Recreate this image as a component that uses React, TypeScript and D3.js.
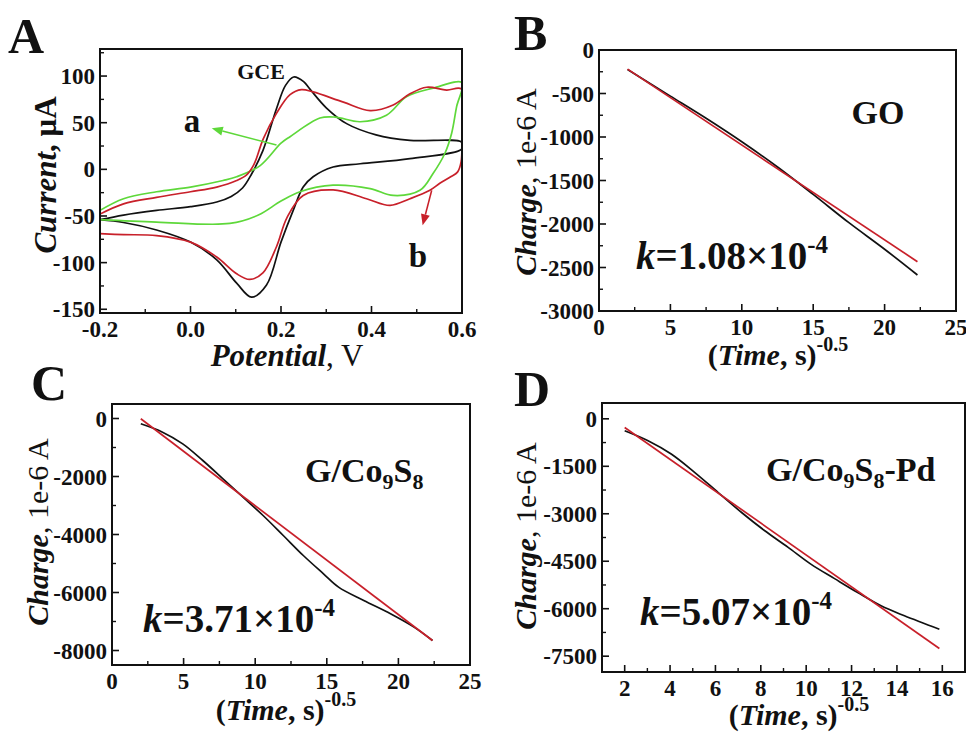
import React from "react";
import * as d3 from "d3";

type Pt = [number, number];

// ---------- Panel A : cyclic voltammograms ----------
const potentialTicks = [-0.2, 0.0, 0.2, 0.4, 0.6];
const potentialMinor = [-0.1, 0.1, 0.3, 0.5];
const currentTicks = [100, 50, 0, -50, -100, -150];
const currentMinor = [125, 75, 25, -25, -75, -125];

const cvGCE: Pt[] = [
  [-0.2, -54], [-0.148, -49], [-0.075, -44], [0.0, -40], [0.058, -35], [0.09, -29], [0.115, -20],
  [0.135, -5], [0.16, 20], [0.19, 65], [0.21, 90], [0.228, 99], [0.25, 94], [0.264, 86], [0.3, 66],
  [0.345, 49], [0.41, 37], [0.485, 31], [0.6, 29],
  [0.6, 22], [0.485, 11.5], [0.375, 6], [0.315, 2.5], [0.271, -8], [0.249, -19], [0.227, -44],
  [0.2, -78], [0.168, -124], [0.135, -137], [0.102, -122], [0.058, -97], [0.0, -78], [-0.075, -65],
  [-0.148, -57], [-0.2, -54],
];
const cvCurveA: Pt[] = [
  [-0.2, -44], [-0.148, -31.5], [-0.075, -24], [0.0, -19], [0.072, -12], [0.102, -8], [0.154, 4],
  [0.2, 28], [0.22, 35], [0.286, 55], [0.32, 56], [0.375, 51], [0.433, 58], [0.478, 78], [0.536, 87],
  [0.6, 93],
  [0.588, 67], [0.577, 38.5], [0.562, 17], [0.536, -4.5], [0.507, -22.5], [0.448, -28], [0.397, -20.6],
  [0.315, -17], [0.242, -24], [0.2, -34], [0.15, -49], [0.087, -58], [-0.075, -56.5], [-0.2, -54],
];
const cvCurveB: Pt[] = [
  [-0.2, -48], [-0.148, -37], [-0.075, -30], [0.0, -24], [0.058, -19], [0.102, -12], [0.124, -6],
  [0.14, 5], [0.161, 33], [0.19, 60], [0.22, 80], [0.245, 85.5], [0.271, 83], [0.338, 72], [0.397, 63],
  [0.448, 69], [0.485, 81], [0.522, 88], [0.566, 85], [0.599, 86],
  [0.6, 40], [0.598, 8], [0.59, -3], [0.575, -8], [0.551, -15], [0.529, -22.5], [0.485, -31.5],
  [0.441, -38.6], [0.389, -31.5], [0.315, -22], [0.249, -28], [0.213, -52], [0.19, -83], [0.16, -111],
  [0.131, -118], [0.102, -112], [0.058, -94], [0.0, -78], [-0.075, -71], [-0.148, -70], [-0.2, -69],
];
const arrowA: Pt[] = [[0.19, 26], [0.047, 44]];
const arrowB: Pt[] = [[0.533, -22.5], [0.513, -60]];

// ---------- Panel B : GO ----------
const timeTicks25 = [0, 5, 10, 15, 20, 25];
const timeMinor25 = [2.5, 7.5, 12.5, 17.5, 22.5];
const chargeTicksB = [0, -500, -1000, -1500, -2000, -2500, -3000];
const chargeMinorB = [-250, -750, -1250, -1750, -2250, -2750];
const goTime = [2, 5, 7.5, 10, 12.5, 15, 17.5, 20, 22.3];
const goCharge = [-225, -530, -785, -1055, -1345, -1660, -1985, -2290, -2586];
const goFitTime = [2, 22.3];
const goFitCharge = [-220, -2433];

// ---------- Panel C : G/Co9S8 ----------
const chargeTicksC = [0, -2000, -4000, -6000, -8000];
const chargeMinorC = [-1000, -3000, -5000, -7000];
const coTime = [2.01, 3.53, 4.94, 6.34, 7.75, 9.15, 10.55, 11.96, 13.36, 14.77, 15.82, 17.58, 19.45, 21.09, 22.38];
const coCharge = [-183, -471, -874, -1448, -2080, -2713, -3345, -4034, -4724, -5356, -5816, -6276, -6735, -7195, -7655];
const coFitTime = [2.01, 22.38];
const coFitCharge = [-10, -7655];

// ---------- Panel D : G/Co9S8-Pd ----------
const timeTicksD = [2, 4, 6, 8, 10, 12, 14, 16];
const timeMinorD = [3, 5, 7, 9, 11, 13, 15];
const chargeTicksD = [0, -1500, -3000, -4500, -6000, -7500];
const chargeMinorD = [-750, -2250, -3750, -5250, -6750];
const pdTime = [2.0, 3.03, 4.05, 5.08, 6.11, 7.14, 8.16, 9.19, 10.22, 11.25, 12.27, 13.3, 14.33, 15.87];
const pdCharge = [-378, -693, -1113, -1691, -2322, -2952, -3529, -4055, -4600, -5050, -5490, -5910, -6225, -6649];
const pdFitTime = [2.0, 15.87];
const pdFitCharge = [-273, -7258];

const FONT = "'Liberation Serif','Times New Roman',Times,serif";
const BLACK = "#111111";
const RED = "#c8202a";
const GREEN = "#5ed83a";

type Box = { l: number; r: number; t: number; b: number };

function Axes({
  box, x, y, xTicks, xMinor, yTicks, yMinor, xFmt, yFmt,
}: {
  box: Box;
  x: d3.ScaleLinear<number, number>;
  y: d3.ScaleLinear<number, number>;
  xTicks: number[]; xMinor: number[]; yTicks: number[]; yMinor: number[];
  xFmt: (v: number) => string; yFmt: (v: number) => string;
}) {
  const major = 7, minor = 4;
  return (
    <g fontFamily={FONT} fontWeight="bold" fontSize={23} fill="#111">
      {xTicks.map((v) => (
        <g key={"xt" + v}>
          <line x1={x(v)} x2={x(v)} y1={box.b} y2={box.b - major} stroke="#111" strokeWidth={1.6} />
          <text x={x(v)} y={box.b + 24} textAnchor="middle">{xFmt(v)}</text>
        </g>
      ))}
      {xMinor.map((v) => (
        <line key={"xm" + v} x1={x(v)} x2={x(v)} y1={box.b} y2={box.b - minor} stroke="#111" strokeWidth={1.4} />
      ))}
      {yTicks.map((v) => (
        <g key={"yt" + v}>
          <line x1={box.l} x2={box.l + major} y1={y(v)} y2={y(v)} stroke="#111" strokeWidth={1.6} />
          <text x={box.l - 5} y={y(v)} dy="0.35em" textAnchor="end">{yFmt(v)}</text>
        </g>
      ))}
      {yMinor.map((v) => (
        <line key={"ym" + v} x1={box.l} x2={box.l + minor} y1={y(v)} y2={y(v)} stroke="#111" strokeWidth={1.4} />
      ))}
      <rect x={box.l} y={box.t} width={box.r - box.l} height={box.b - box.t} fill="none" stroke="#111" strokeWidth={2} />
    </g>
  );
}

function Arrow({ from, to, color }: { from: Pt; to: Pt; color: string }) {
  const [x1, y1] = from, [x2, y2] = to;
  const ang = Math.atan2(y2 - y1, x2 - x1);
  const L = 11, W = 4.5;
  const bx = x2 - L * Math.cos(ang), by = y2 - L * Math.sin(ang);
  const px = -Math.sin(ang) * W, py = Math.cos(ang) * W;
  return (
    <g>
      <line x1={x1} y1={y1} x2={bx} y2={by} stroke={color} strokeWidth={1.6} />
      <path d={`M${x2},${y2}L${bx + px},${by + py}L${bx - px},${by - py}Z`} fill={color} />
    </g>
  );
}

function Panel({
  box, xDomain, yDomain, xTicks, xMinor, yTicks, yMinor, xFmt, yFmt, black, fitX, fitY,
}: {
  box: Box; xDomain: [number, number]; yDomain: [number, number];
  xTicks: number[]; xMinor: number[]; yTicks: number[]; yMinor: number[];
  xFmt: (v: number) => string; yFmt: (v: number) => string;
  black: [number[], number[]]; fitX: number[]; fitY: number[];
}) {
  const x = d3.scaleLinear().domain(xDomain).range([box.l, box.r]);
  const y = d3.scaleLinear().domain(yDomain).range([box.b, box.t]);
  const line = d3.line<Pt>().x((d) => x(d[0])).y((d) => y(d[1])).curve(d3.curveCatmullRom.alpha(0.5));
  const blackPts: Pt[] = black[0].map((t, i) => [t, black[1][i]]);
  const fitPts: Pt[] = fitX.map((t, i) => [t, fitY[i]]);
  return (
    <g>
      <path d={line(blackPts) || ""} fill="none" stroke={BLACK} strokeWidth={1.7} />
      <path d={d3.line<Pt>().x((d) => x(d[0])).y((d) => y(d[1]))(fitPts) || ""} fill="none" stroke={RED} strokeWidth={1.7} />
      <Axes box={box} x={x} y={y} xTicks={xTicks} xMinor={xMinor} yTicks={yTicks} yMinor={yMinor} xFmt={xFmt} yFmt={yFmt} />
    </g>
  );
}

function ChargeTitle({ cx, cy }: { cx: number; cy: number }) {
  return (
    <text transform={`translate(${cx},${cy}) rotate(-90)`} textAnchor="middle" dy="0.35em" fontFamily={FONT} fontSize={30} fill="#111">
      <tspan fontWeight="bold" fontStyle="italic">Charge</tspan>
      <tspan>, 1e-6 A</tspan>
    </text>
  );
}

function TimeTitle({ cx, by }: { cx: number; by: number }) {
  return (
    <text x={cx} y={by} textAnchor="middle" fontFamily={FONT} fontSize={30} fontWeight="bold" fill="#111">
      <tspan>(</tspan>
      <tspan fontStyle="italic">Time</tspan>
      <tspan>, s)</tspan>
      <tspan dy={-14} fontSize={20}>-0.5</tspan>
    </text>
  );
}

function KText({ x, y, value }: { x: number; y: number; value: string }) {
  return (
    <text x={x} y={y} fontFamily={FONT} fontSize={39} fontWeight="bold" fill="#111">
      <tspan fontStyle="italic">k</tspan>
      <tspan>={value}×10</tspan>
      <tspan dy={-16} fontSize={25}>-4</tspan>
    </text>
  );
}

function CvPanel() {
  const box: Box = { l: 100, r: 462, t: 49, b: 313 };
  const x = d3.scaleLinear().domain([-0.2, 0.6]).range([box.l, box.r]);
  const y = d3.scaleLinear().domain([-154, 129]).range([box.b, box.t]);
  const line = d3.line<Pt>().x((d) => x(d[0])).y((d) => y(d[1])).curve(d3.curveCatmullRom.alpha(0.5));
  const toPx = (p: Pt): Pt => [x(p[0]), y(p[1])];
  return (
    <g>
      <defs>
        <clipPath id="clipA">
          <rect x={box.l} y={box.t} width={box.r - box.l} height={box.b - box.t} />
        </clipPath>
      </defs>
      <g clipPath="url(#clipA)">
        <path d={line(cvGCE) || ""} fill="none" stroke={BLACK} strokeWidth={1.7} />
        <path d={line(cvCurveA) || ""} fill="none" stroke={GREEN} strokeWidth={1.7} />
        <path d={line(cvCurveB) || ""} fill="none" stroke={RED} strokeWidth={1.7} />
      </g>
      <Arrow from={toPx(arrowA[0])} to={toPx(arrowA[1])} color={GREEN} />
      <Arrow from={toPx(arrowB[0])} to={toPx(arrowB[1])} color={RED} />
      <Axes box={box} x={x} y={y} xTicks={potentialTicks} xMinor={potentialMinor} yTicks={currentTicks} yMinor={currentMinor}
        xFmt={(v) => d3.format(".1f")(v).replace("−", "-")} yFmt={(v) => String(v)} />
      <g fontFamily={FONT} fontWeight="bold" fill="#111">
        <text x={261} y={79} fontSize={22} textAnchor="middle">GCE</text>
        <text x={192} y={132} fontSize={33} textAnchor="middle">a</text>
        <text x={418} y={267} fontSize={33} textAnchor="middle">b</text>
      </g>
      <text transform="translate(45,175) rotate(-90)" textAnchor="middle" dy="0.35em" fontFamily={FONT} fontSize={31} fontWeight="bold" fill="#111">
        <tspan fontStyle="italic">Current</tspan>
        <tspan>, μA</tspan>
      </text>
      <text x={287} y={366} textAnchor="middle" fontFamily={FONT} fontSize={31} fill="#111">
        <tspan fontWeight="bold" fontStyle="italic">Potential</tspan>
        <tspan>, V</tspan>
      </text>
    </g>
  );
}

export default function App() {
  const intFmt = (v: number) => String(v);
  return (
    <svg width={966} height={733} viewBox="0 0 966 733" style={{ position: "absolute", left: 0, top: 0, background: "#fff" }}>
      <rect width={966} height={733} fill="#fff" />
      <CvPanel />

      <Panel box={{ l: 599, r: 956, t: 50, b: 311 }} xDomain={[0, 25]} yDomain={[-3000, 0]}
        xTicks={timeTicks25} xMinor={timeMinor25} yTicks={chargeTicksB} yMinor={chargeMinorB}
        xFmt={intFmt} yFmt={intFmt} black={[goTime, goCharge]} fitX={goFitTime} fitY={goFitCharge} />
      <ChargeTitle cx={525} cy={182} />
      <TimeTitle cx={778} by={365} />
      <text x={878} y={124} textAnchor="middle" fontFamily={FONT} fontSize={34} fontWeight="bold" fill="#111">GO</text>
      <KText x={636} y={269} value="1.08" />

      <Panel box={{ l: 112, r: 470, t: 404, b: 665 }} xDomain={[0, 25]} yDomain={[-8500, 500]}
        xTicks={timeTicks25} xMinor={timeMinor25} yTicks={chargeTicksC} yMinor={chargeMinorC}
        xFmt={intFmt} yFmt={intFmt} black={[coTime, coCharge]} fitX={coFitTime} fitY={coFitCharge} />
      <ChargeTitle cx={37} cy={532} />
      <TimeTitle cx={286} by={720} />
      <text x={305} y={482} fontFamily={FONT} fontSize={34} fontWeight="bold" fill="#111">
        <tspan>G/Co</tspan><tspan dy={7} fontSize={22}>9</tspan><tspan dy={-7}>S</tspan><tspan dy={7} fontSize={22}>8</tspan>
      </text>
      <KText x={143} y={632} value="3.71" />

      <Panel box={{ l: 602, r: 965, t: 403, b: 672 }} xDomain={[1, 17]} yDomain={[-8000, 500]}
        xTicks={timeTicksD} xMinor={timeMinorD} yTicks={chargeTicksD} yMinor={chargeMinorD}
        xFmt={intFmt} yFmt={intFmt} black={[pdTime, pdCharge]} fitX={pdFitTime} fitY={pdFitCharge} />
      <ChargeTitle cx={525} cy={536} />
      <TimeTitle cx={799} by={725} />
      <text x={766} y={481} fontFamily={FONT} fontSize={34} fontWeight="bold" fill="#111">
        <tspan>G/Co</tspan><tspan dy={7} fontSize={22}>9</tspan><tspan dy={-7}>S</tspan><tspan dy={7} fontSize={22}>8</tspan><tspan dy={-7}>-Pd</tspan>
      </text>
      <KText x={640} y={625} value="5.07" />

      <g fontFamily={FONT} fontWeight="bold" fontSize={50} fill="#111">
        <text x={8} y={53}>A</text>
        <text x={514} y={50}>B</text>
        <text x={31} y={400}>C</text>
        <text x={514} y={406}>D</text>
      </g>
    </svg>
  );
}
